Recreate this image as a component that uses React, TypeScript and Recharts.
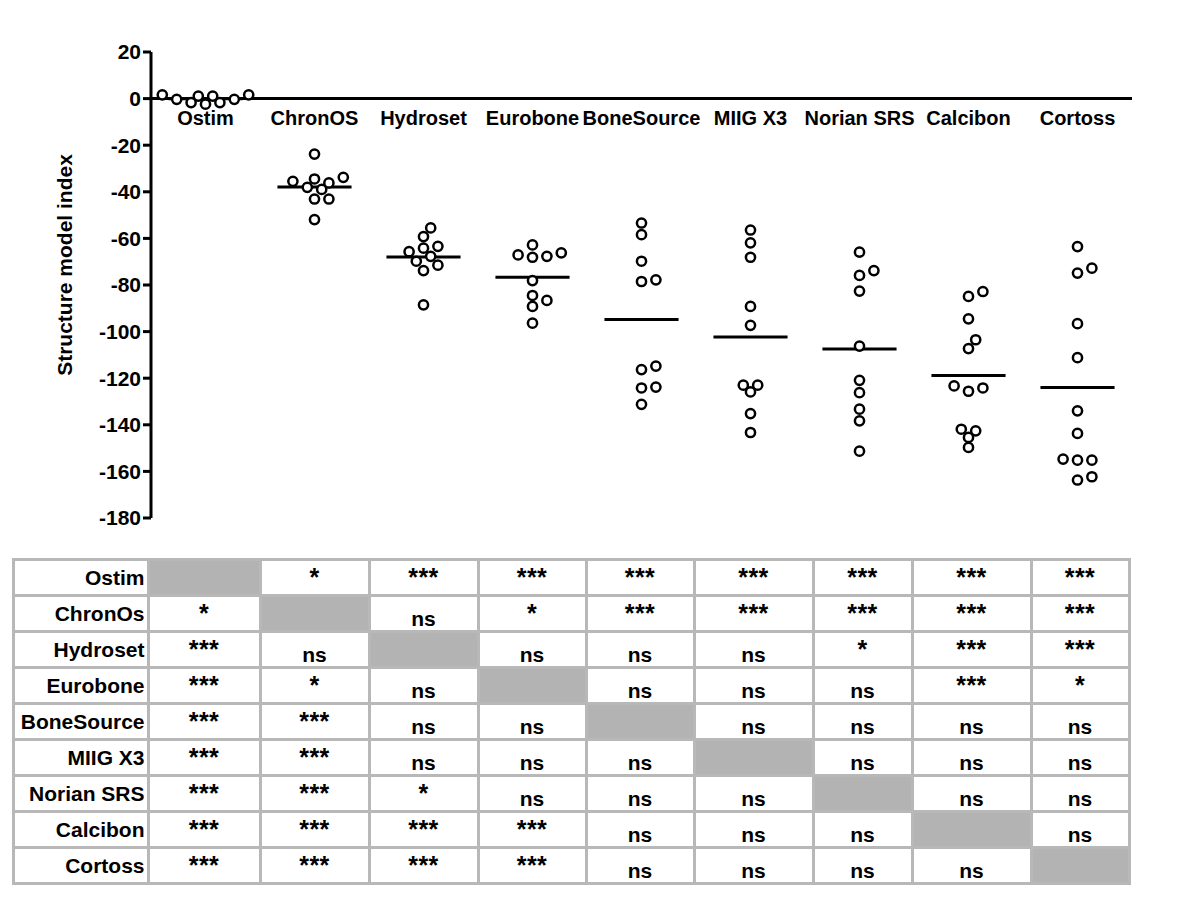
import React from 'react';
import { ScatterChart, Scatter, XAxis, YAxis, ReferenceLine, Label } from 'recharts';

// groups along the x axis
const groups = ['Ostim', 'ChronOS', 'Hydroset', 'Eurobone', 'BoneSource', 'MIIG X3', 'Norian SRS', 'Calcibon', 'Cortoss'];

// structure model index per sample
const ostim = [-0.3, 1.6, -1.7, 1.1, -2.4, 1.1, -1.7, 1.6, -0.3];
const chronos = [-23.8, -34.5, -36.2, -35.5, -33.8, -38.1, -39.0, -43.1, -43.1, -51.9];
const hydroset = [-55.5, -59.2, -63.4, -64.2, -65.7, -67.7, -69.8, -71.5, -73.8, -88.5];
const eurobone = [-66.2, -67.7, -68.1, -67.1, -62.8, -78.1, -86.6, -84.5, -89.2, -96.4];
const boneSource = [-53.4, -58.4, -69.8, -77.8, -78.5, -114.8, -116.3, -123.8, -124.2, -131.2];
const miig = [-56.4, -61.9, -68.1, -89.2, -97.3, -123.0, -125.9, -123.0, -135.2, -143.3];
const norian = [-65.9, -73.8, -75.9, -82.6, -106.2, -120.9, -126.2, -133.3, -138.3, -151.3];
const calcibon = [-82.8, -84.9, -94.5, -103.5, -107.3, -123.3, -125.6, -124.2, -141.9, -142.6, -145.4, -149.7];
const cortoss = [-63.5, -72.8, -74.9, -96.6, -111.2, -134.0, -143.7, -155.2, -155.2, -154.7, -163.7, -162.3];

const groupValues = [ostim, chronos, hydroset, eurobone, boneSource, miig, norian, calcibon, cortoss];

const yTicks = [20, 0, -20, -40, -60, -80, -100, -120, -140, -160, -180];

// significance table
const rowLabels = ['Ostim', 'ChronOs', 'Hydroset', 'Eurobone', 'BoneSource', 'MIIG X3', 'Norian SRS', 'Calcibon', 'Cortoss'];
const sigOstim = ['', '*', '***', '***', '***', '***', '***', '***', '***'];
const sigChronos = ['*', '', 'ns', '*', '***', '***', '***', '***', '***'];
const sigHydroset = ['***', 'ns', '', 'ns', 'ns', 'ns', '*', '***', '***'];
const sigEurobone = ['***', '*', 'ns', '', 'ns', 'ns', 'ns', '***', '*'];
const sigBoneSource = ['***', '***', 'ns', 'ns', '', 'ns', 'ns', 'ns', 'ns'];
const sigMiig = ['***', '***', 'ns', 'ns', 'ns', '', 'ns', 'ns', 'ns'];
const sigNorian = ['***', '***', '*', 'ns', 'ns', 'ns', '', 'ns', 'ns'];
const sigCalcibon = ['***', '***', '***', '***', 'ns', 'ns', 'ns', '', 'ns'];
const sigCortoss = ['***', '***', '***', '***', 'ns', 'ns', 'ns', 'ns', ''];
const sigRows = [sigOstim, sigChronos, sigHydroset, sigEurobone, sigBoneSource, sigMiig, sigNorian, sigCalcibon, sigCortoss];

const FONT = "'Liberation Sans', Arial, Helvetica, sans-serif";
const CHART_W = 1200;
const CHART_H = 540;
const MARGIN = { top: 52, right: 68, bottom: 22, left: 0 };
const Y_AXIS_W = 151;
const PLOT_W = CHART_W - MARGIN.left - MARGIN.right - Y_AXIS_W;
const PLOT_H = CHART_H - MARGIN.top - MARGIN.bottom;
const PX_PER_UNIT = PLOT_H / 200;
const PX_PER_BAND = PLOT_W / groups.length;
const MARKER_GAP = 9.6;
const STEP_PX = 7.2;

// simple beeswarm: spread points sideways so the circles don't overlap
function swarm(values: number[]) {
    const sorted = [...values].sort((a, b) => a - b);
    const placed: { dx: number; dy: number }[] = [];
    const out: { v: number; off: number }[] = [];
    for (const v of sorted) {
        const dy = -v * PX_PER_UNIT;
        for (let k = 0; k < 60; k++) {
            const m = k === 0 ? 0 : (k % 2 ? Math.ceil(k / 2) : -k / 2);
            const dx = m * STEP_PX;
            const free = placed.every(q => (q.dx - dx) ** 2 + (q.dy - dy) ** 2 >= MARKER_GAP ** 2);
            if (free) {
                placed.push({ dx, dy });
                out.push({ v, off: dx / PX_PER_BAND });
                break;
            }
        }
    }
    return out;
}

const points = groupValues.flatMap((vals, gi) => swarm(vals).map(p => ({ x: gi + p.off, y: p.v })));
const means = groupValues.map(vals => vals.reduce((a, b) => a + b, 0) / vals.length);
const labelPoints = groups.map((name, i) => ({ x: i, y: 0, name }));

const Dot = (props: any) => {
    const { cx, cy } = props;
    if (cx == null || cy == null) return null;
    return <circle cx={cx} cy={cy} r={4.6} fill="#fff" stroke="#000" strokeWidth={2.5} />;
};

const GroupLabel = (props: any) => {
    const { cx, cy, payload } = props;
    if (cx == null || cy == null) return null;
    return (
        <text x={cx} y={cy + 26} textAnchor="middle" fontFamily={FONT} fontWeight="bold" fontSize={20} fill="#000">
            {payload.name}
        </text>
    );
};

const YTitle = (props: any) => {
    const vb = props.viewBox || {};
    const x = (vb.x || 0) + 64;
    const y = (vb.y || 0) + vb.height / 2 - 20;
    return (
        <text x={x} y={y} transform={`rotate(-90 ${x} ${y})`} textAnchor="middle" dominantBaseline="central"
            fontFamily={FONT} fontWeight="bold" fontSize={21} fill="#000">
            Structure model index
        </text>
    );
};

const colWidths = [132, 109, 106, 106, 105, 105, 116, 96, 116, 95];

const SigTable = () => (
    <div style={{
        position: 'absolute', left: 11.5, top: 557.5,
        display: 'grid', gridTemplateColumns: colWidths.map(w => `${w}px`).join(' '),
        gridAutoRows: '33px', gap: 3, padding: 3, background: '#b8b8b8',
        fontFamily: FONT, fontWeight: 'bold', color: '#000',
    }}>
        {rowLabels.map((label, ri) => (
            <React.Fragment key={label}>
                <div style={{ background: '#fff', textAlign: 'right', paddingRight: 2, fontSize: 21, lineHeight: '33px' }}>{label}</div>
                {sigRows[ri].map((s, ci) => (
                    <div key={ci} style={{
                        background: s === '' ? '#b3b3b3' : '#fff', textAlign: 'center',
                        fontSize: s === 'ns' ? 21 : 25, lineHeight: '33px', letterSpacing: s === 'ns' ? 0 : 0.5,
                    }}>
                        <span style={{ position: 'relative', top: s === 'ns' ? 5 : 0 }}>{s}</span>
                    </div>
                ))}
            </React.Fragment>
        ))}
    </div>
);

export default function App() {
    return (
        <div style={{ position: 'absolute', left: 0, top: 0, width: 1200, height: 900, background: '#fff', overflow: 'hidden' }}>
            <ScatterChart width={CHART_W} height={CHART_H} margin={MARGIN}>
                <XAxis type="number" dataKey="x" domain={[-0.5, groups.length - 0.5]} hide allowDataOverflow />
                <YAxis
                    type="number"
                    dataKey="y"
                    domain={[-180, 20]}
                    ticks={yTicks}
                    interval={0}
                    width={Y_AXIS_W}
                    allowDataOverflow
                    axisLine={{ stroke: '#000', strokeWidth: 3 }}
                    tickLine={{ stroke: '#000', strokeWidth: 3 }}
                    tickSize={8}
                    tick={{ fill: '#000', fontSize: 21, fontWeight: 'bold', fontFamily: FONT }}
                >
                    <Label content={<YTitle />} />
                </YAxis>
                <ReferenceLine y={0} stroke="#000" strokeWidth={3} />
                {means.map((m, i) => (
                    <ReferenceLine
                        key={groups[i]}
                        segment={[{ x: i - 0.34, y: m }, { x: i + 0.34, y: m }]}
                        stroke="#000"
                        strokeWidth={3}
                    />
                ))}
                <Scatter data={points} shape={<Dot />} isAnimationActive={false} />
                <Scatter data={labelPoints} shape={<GroupLabel />} isAnimationActive={false} />
            </ScatterChart>
            <SigTable />
        </div>
    );
}
